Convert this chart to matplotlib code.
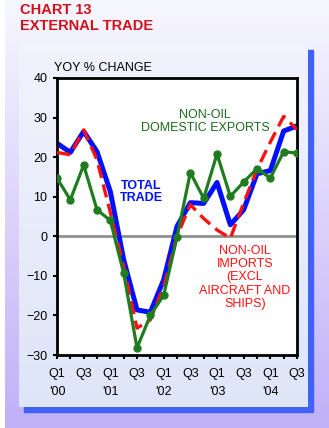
import numpy as np
import matplotlib
matplotlib.use("Agg")
import matplotlib.pyplot as plt
from matplotlib.patches import Rectangle

plt.rcParams['font.family'] = ['Liberation Sans', 'DejaVu Sans']

# quarters Q1 2000 .. Q3 2004
quarters = np.arange(19)
tick_labels = ["Q1\n'00", "Q3", "Q1\n'01", "Q3", "Q1\n'02", "Q3",
               "Q1\n'03", "Q3", "Q1\n'04", "Q3"]

total_trade = [23.5, 21.2, 26.5, 21.4, 11.3, -5.9, -18.6, -19.2, -11.0, 2.5,
               8.5, 8.3, 13.6, 2.9, 6.7, 15.8, 16.6, 26.6, 27.9]
imports = [21.2, 20.6, 26.9, 19.3, 6.0, -7.6, -23.2, -21.1, -12.7, 0.0,
           8.0, 4.5, 1.6, -0.5, 8.4, 16.9, 23.8, 30.3, 27.0]
exports = [14.7, 9.2, 18.0, 6.7, 4.0, -9.3, -28.2, -20.0, -14.9, -0.2,
           16.1, 9.6, 20.8, 10.1, 13.7, 17.1, 14.7, 21.4, 21.0]

W, H = 329, 428
fig = plt.figure(figsize=(W / 100, H / 100), dpi=100)

# lavender background with vertical gradient
bg = fig.add_axes([0, 0, 1, 1])
bg.axis("off")
grad = np.linspace(0, 1, 256).reshape(-1, 1)
top = np.array([0.97, 0.97, 1.0])
bot = np.array([0.75, 0.69, 0.97])
img = top + (bot - top) * grad[..., None]
bg.imshow(img, extent=[5, W, H, 0], aspect="auto", zorder=0)
# shadow and panel
bg.add_patch(Rectangle((24, 50), 289, 362, color="#3f62f2", zorder=1))
ptop = np.array([0.95, 0.95, 0.99])
pbot = np.array([0.87, 0.90, 0.97])
pimg = ptop + (pbot - ptop) * grad[..., None]
bg.imshow(pimg, extent=[19, 308, 407, 45], aspect="auto", zorder=2)
bg.set_xlim(0, W)
bg.set_ylim(H, 0)

fig.text(20 / W, 1 - 10 / H, "CHART 13", color="#d0101a", fontsize=10.5,
         fontweight="bold", va="center", ha="left")
fig.text(20 / W, 1 - 26.5 / H, "EXTERNAL TRADE", color="#d0101a",
         fontsize=10.5, fontweight="bold", va="center", ha="left")

ax = fig.add_axes([57 / W, 1 - 355 / H, 240 / W, 277 / H])
ax.set_facecolor("white")
ax.axhline(0, color="#909090", lw=2, zorder=1)
ax.plot(quarters, total_trade, color="#0010ff", lw=3.6, zorder=2,
        solid_capstyle="round")
ax.plot(quarters, imports, color="#ff1010", lw=2.4, ls=(0, (4, 2)), zorder=3)
ax.plot(quarters, exports, color="#1f7d1f", lw=2.3, marker="o", ms=5,
        zorder=4)

ax.set_xlim(0, 18)
ax.set_ylim(-30, 40)
ax.set_yticks(range(-30, 41, 10))
ax.set_xticks(quarters, minor=True)
ax.set_xticks(quarters[::2])
ax.set_xticklabels(tick_labels, linespacing=1.7)
ax.tick_params(axis="both", labelsize=9, width=1.5, length=3, color="black")
ax.tick_params(axis="x", which="minor", width=1.5, length=3)
ax.tick_params(axis="x", pad=6)
ax.tick_params(axis="y", pad=4)
for s in ax.spines.values():
    s.set_linewidth(2)

ax.text(-0.22, 42.5, "YOY % CHANGE", fontsize=9, ha="left", va="center",
        clip_on=False)
ax.text(11.1, 29.0, "NON-OIL\nDOMESTIC EXPORTS", color="#1a6b1a", fontsize=9,
        ha="center", va="center", linespacing=1.1)
ax.text(6.3, 11.2, "TOTAL\nTRADE", color="#0010ff", fontsize=9,
        fontweight="bold", ha="center", va="center", linespacing=1.1)
ax.text(14.1, -10.4, "NON-OIL\nIMPORTS\n(EXCL\nAIRCRAFT AND\nSHIPS)",
        color="#ff1010", fontsize=9, ha="center", va="center",
        linespacing=1.15)

fig.savefig("out.png", dpi=100)
